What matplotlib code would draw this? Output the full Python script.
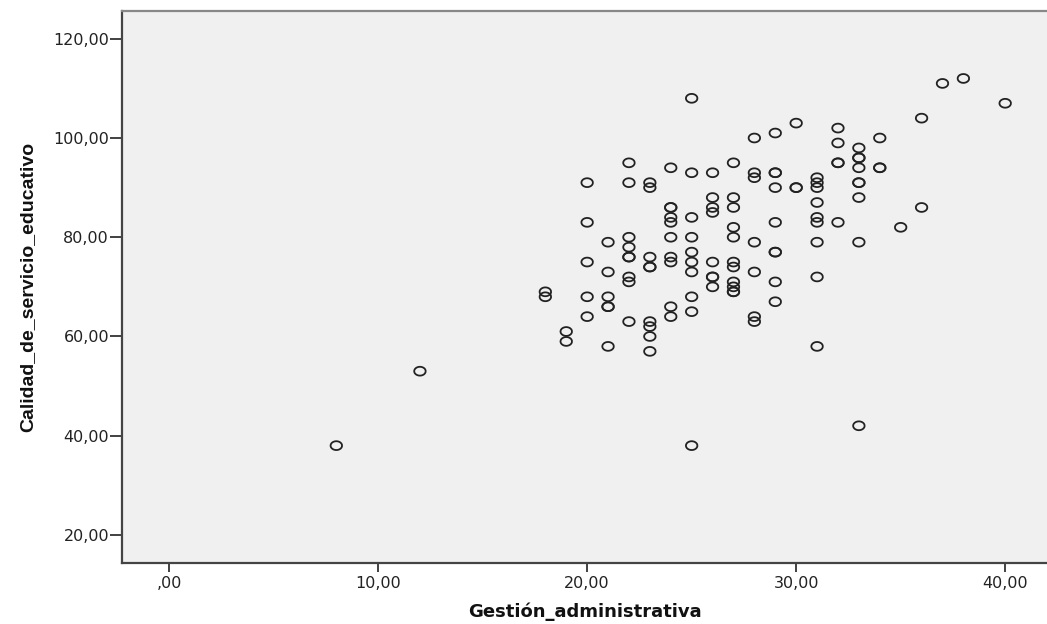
import numpy as np
import matplotlib
matplotlib.use('Agg')
import matplotlib.pyplot as plt
from matplotlib.path import Path
from matplotlib.ticker import FuncFormatter

# Gestión_administrativa (x) vs Calidad_de_servicio_educativo (y)
gestion = [8, 12,
           18, 18,
           19, 19,
           20, 20, 20, 20, 20,
           21, 21, 21, 21, 21, 21,
           22, 22, 22, 22, 22, 22, 22, 22, 22,
           23, 23, 23, 23, 23, 23, 23, 23, 23,
           24, 24, 24, 24, 24, 24, 24, 24, 24, 24,
           25, 25, 25, 25, 25, 25, 25, 25, 25, 25,
           26, 26, 26, 26, 26, 26, 26, 26,
           27, 27, 27, 27, 27, 27, 27, 27, 27, 27, 27,
           28, 28, 28, 28, 28, 28, 28,
           29, 29, 29, 29, 29, 29, 29, 29, 29,
           30, 30, 30,
           31, 31, 31, 31, 31, 31, 31, 31, 31,
           32, 32, 32, 32, 32,
           33, 33, 33, 33, 33, 33, 33, 33, 33,
           34, 34, 34,
           35,
           36, 36,
           37, 38, 40]
calidad = [38, 53,
           69, 68,
           61, 59,
           91, 83, 75, 68, 64,
           79, 73, 68, 66, 66, 58,
           95, 91, 80, 78, 76, 76, 72, 71, 63,
           91, 90, 76, 74, 74, 63, 62, 60, 57,
           94, 86, 86, 84, 83, 80, 76, 75, 66, 64,
           108, 93, 84, 80, 77, 75, 73, 68, 65, 38,
           93, 88, 86, 85, 75, 72, 72, 70,
           95, 88, 86, 82, 80, 75, 74, 71, 70, 69, 69,
           100, 93, 92, 79, 73, 64, 63,
           101, 93, 93, 90, 83, 77, 77, 71, 67,
           103, 90, 90,
           92, 91, 90, 87, 84, 83, 79, 72, 58,
           102, 99, 95, 95, 83,
           98, 96, 96, 94, 91, 91, 88, 79, 42,
           100, 94, 94,
           82,
           104, 86,
           111, 112, 107]

x_ticks = [0, 10, 20, 30, 40]
y_ticks = [20, 40, 60, 80, 100, 120]


def coma(v, pos=None):
    s = f"{v:.2f}".replace('.', ',')
    if s.startswith('0,'):
        s = s[1:]
    return s


# slightly wide ellipse marker like SPSS
t = np.linspace(0, 2 * np.pi, 60)
ellipse = Path(np.column_stack([1.3 * np.cos(t), np.sin(t)]))

fig = plt.figure(figsize=(10.47, 6.24), dpi=100)
ax = fig.add_axes([0.1168, 0.0982, 0.8832, 0.8842])
ax.set_facecolor('#f0f0f0')

ax.scatter(gestion, calidad, marker=ellipse, s=68, facecolors='none',
           edgecolors='#222222', linewidths=1.3, zorder=3)

ax.set_xlim(-2.24, 42.0)
ax.set_ylim(14.4, 125.6)
ax.set_xticks(x_ticks)
ax.set_yticks(y_ticks)
ax.xaxis.set_major_formatter(FuncFormatter(coma))
ax.yaxis.set_major_formatter(FuncFormatter(coma))
ax.tick_params(axis='y', length=8.5, width=1.3, color='#333333', pad=1,
               labelsize=11.5, labelcolor='#222222')
ax.tick_params(axis='x', length=6.5, width=1.3, color='#333333', pad=3,
               labelsize=11.5, labelcolor='#222222')

for s in ['left', 'bottom']:
    ax.spines[s].set_color('#444444')
    ax.spines[s].set_linewidth(1.6)
ax.spines['top'].set_color('#888888')
ax.spines['top'].set_linewidth(1.6)
ax.spines['right'].set_visible(False)

ax.set_xlabel('Gestión_administrativa', fontsize=13, fontweight='bold',
              color='#111111', labelpad=8)
ax.set_ylabel('Calidad_de_servicio_educativo', fontsize=14, fontweight='bold',
              family=['Liberation Sans', 'DejaVu Sans'],
              color='#111111', labelpad=12)

fig.savefig('out.png', dpi=100)
